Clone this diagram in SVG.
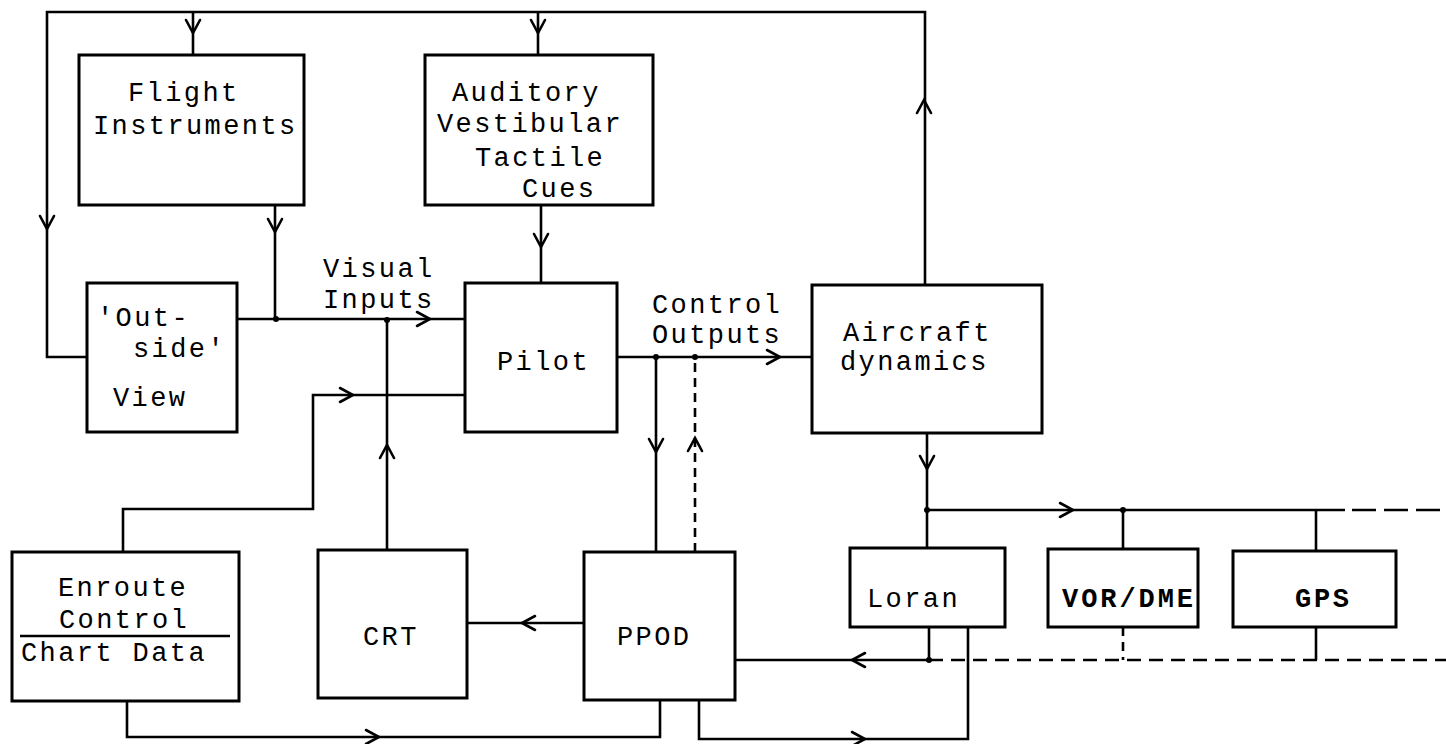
<svg xmlns="http://www.w3.org/2000/svg" xmlns:xlink="http://www.w3.org/1999/xlink" width="1446" height="744" viewBox="0 0 1446 744">
<style>
  .box { fill: none; stroke: #000; stroke-width: 3; }
  .ln { fill: none; stroke: #000; stroke-width: 2.6; stroke-linejoin: miter; }
  .dash { fill: none; stroke: #000; stroke-width: 2.6; stroke-dasharray: 14 8; }
  .dashv { fill: none; stroke: #000; stroke-width: 2.6; stroke-dasharray: 9 6; }
  .ah { fill: none; stroke: #000; stroke-width: 2.6; stroke-linecap: round; stroke-linejoin: miter; }
  .dot { fill: #000; }
  text { font-family: "Liberation Mono", "Courier New", monospace; font-size: 27px; letter-spacing: 2.4px; fill: #000; }
  .b { font-weight: bold; letter-spacing: 0; }
</style>
<defs>
  <path id="ah" class="ah" d="M-13,-7 L0,0 L-13,7"/>
</defs>
<rect width="1446" height="744" fill="#fff"/>

<g id="connectors">
  <path class="ln" d="M925,285 V12 H47 V357 H87"/>
  <path class="ln" d="M193,12 V55"/>
  <path class="ln" d="M538,12 V55"/>
  <path class="ln" d="M275,205 V319"/>
  <path class="ln" d="M541,205 V283"/>
  <path class="ln" d="M237,319 H465"/>
  <path class="ln" d="M387,550 V319"/>
  <path class="ln" d="M123,552 V509 H313 V395 H465"/>
  <path class="ln" d="M617,357 H812"/>
  <path class="ln" d="M656,357 V552"/>
  <path class="dashv" d="M695,552 V357"/>
  <path class="ln" d="M927,433 V548"/>
  <path class="ln" d="M927,510 H1345"/>
  <path class="dash" d="M1352,510 H1446" style="stroke-dasharray:24 8"/>
  <path class="ln" d="M1123,510 V549"/>
  <path class="ln" d="M1316,510 V551"/>
  <path class="ln" d="M584,623 H467"/>
  <path class="ln" d="M929,627 V660 H735"/>
  <path class="dash" d="M929,660 H1446"/>
  <path class="ln" d="M1316,627 V660"/>
  <path class="dashv" d="M1123,627 V660"/>
  <path class="ln" d="M127,701 V737 H660 V700"/>
  <path class="ln" d="M699,700 V739 H968 V627"/>

  <use xlink:href="#ah" transform="translate(193,33) rotate(90)"/>
  <use xlink:href="#ah" transform="translate(538,33) rotate(90)"/>
  <use xlink:href="#ah" transform="translate(47,229) rotate(90)"/>
  <use xlink:href="#ah" transform="translate(275,232) rotate(90)"/>
  <use xlink:href="#ah" transform="translate(541,247) rotate(90)"/>
  <use xlink:href="#ah" transform="translate(924,100) rotate(-90)"/>
  <use xlink:href="#ah" transform="translate(430,319)"/>
  <use xlink:href="#ah" transform="translate(353,395)"/>
  <use xlink:href="#ah" transform="translate(387,445) rotate(-90)"/>
  <use xlink:href="#ah" transform="translate(780,357)"/>
  <use xlink:href="#ah" transform="translate(656,452) rotate(90)"/>
  <use xlink:href="#ah" transform="translate(695,438) rotate(-90)"/>
  <use xlink:href="#ah" transform="translate(927,469) rotate(90)"/>
  <use xlink:href="#ah" transform="translate(1073,510)"/>
  <use xlink:href="#ah" transform="translate(522,623) rotate(180)"/>
  <use xlink:href="#ah" transform="translate(852,660) rotate(180)"/>
  <use xlink:href="#ah" transform="translate(379,737)"/>
  <use xlink:href="#ah" transform="translate(865,739)"/>

  <circle class="dot" cx="276" cy="319" r="3"/>
  <circle class="dot" cx="387" cy="320" r="3"/>
  <circle class="dot" cx="656" cy="357" r="3"/>
  <circle class="dot" cx="695" cy="357" r="3"/>
  <circle class="dot" cx="927" cy="510" r="3"/>
  <circle class="dot" cx="1123" cy="510" r="3"/>
  <circle class="dot" cx="929" cy="660" r="3"/>
</g>

<g id="flight-instruments">
  <rect class="box" x="79" y="55" width="225" height="150"/>
  <text x="128" y="101">Flight</text>
  <text x="93" y="134">Instruments</text>
</g>

<g id="auditory-cues">
  <rect class="box" x="425" y="55" width="228" height="150"/>
  <text x="452" y="101">Auditory</text>
  <text x="437" y="132">Vestibular</text>
  <text x="475" y="166">Tactile</text>
  <text x="522" y="197">Cues</text>
</g>

<g id="outside-view">
  <rect class="box" x="87" y="283" width="150" height="149"/>
  <text x="97" y="326">'Out-</text>
  <text x="133" y="357">side'</text>
  <text x="113" y="406">View</text>
</g>

<g id="visual-inputs-label">
  <text x="323" y="277">Visual</text>
  <text x="323" y="308">Inputs</text>
</g>

<g id="pilot">
  <rect class="box" x="465" y="283" width="152" height="149"/>
  <text x="497" y="370">Pilot</text>
</g>

<g id="control-outputs-label">
  <text x="652" y="313">Control</text>
  <text x="652" y="343">Outputs</text>
</g>

<g id="aircraft-dynamics">
  <rect class="box" x="812" y="285" width="230" height="148"/>
  <text x="843" y="341">Aircraft</text>
  <text x="840" y="370">dynamics</text>
</g>

<g id="enroute">
  <rect class="box" x="12" y="552" width="227" height="149"/>
  <text x="58" y="596">Enroute</text>
  <text x="59" y="628">Control</text>
  <line class="ln" x1="20" y1="636" x2="230" y2="636"/>
  <text x="21" y="661">Chart Data</text>
</g>

<g id="crt">
  <rect class="box" x="318" y="550" width="149" height="148"/>
  <text x="363" y="645">CRT</text>
</g>

<g id="ppod">
  <rect class="box" x="584" y="552" width="151" height="148"/>
  <text x="617" y="645">PPOD</text>
</g>

<g id="loran">
  <rect class="box" x="850" y="548" width="155" height="79"/>
  <text x="867" y="607">Loran</text>
</g>

<g id="vor-dme">
  <rect class="box" x="1048" y="549" width="150" height="78"/>
  <text class="b" x="1062" y="607" textLength="131">VOR/DME</text>
</g>

<g id="gps">
  <rect class="box" x="1233" y="551" width="163" height="76"/>
  <text class="b" x="1295" y="607" textLength="54">GPS</text>
</g>
</svg>
